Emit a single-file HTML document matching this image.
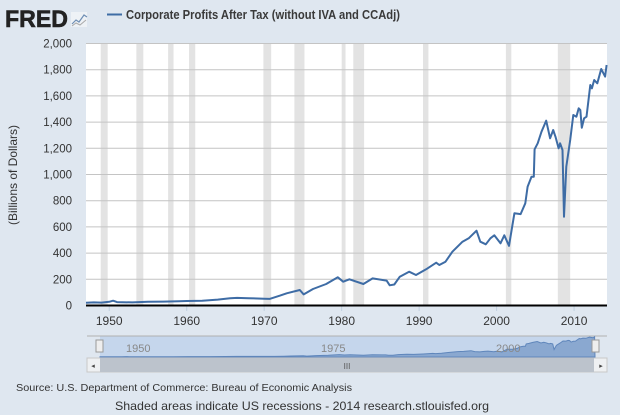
<!DOCTYPE html>
<html><head><meta charset="utf-8"><style>
body{margin:0;background:#dfe7f0;font-family:"Liberation Sans",sans-serif;}
svg text{font-family:"Liberation Sans",sans-serif;}
</style></head><body>
<svg id="c" width="620" height="415" style="display:block">
<rect width="620" height="415" fill="#dfe7f0"/>
<text x="5" y="27" font-size="24" font-weight="bold" fill="#222" stroke="#222" stroke-width="0.6" textLength="63" lengthAdjust="spacingAndGlyphs">FRED</text>
<g><rect x="71" y="12" width="16" height="15" fill="#eef2f6"/><polyline points="72,24 76,20 79,22 84,15 87,17" fill="none" stroke="#6f8fb5" stroke-width="1.2"/><polyline points="72,26 76,23 80,25 86,20" fill="none" stroke="#aaa" stroke-width="1"/></g>
<line x1="107" y1="14.5" x2="122" y2="14.5" stroke="#3e6ca5" stroke-width="2"/>
<text x="126" y="19" font-size="12.5" font-weight="bold" fill="#3a3a3a" textLength="274" lengthAdjust="spacingAndGlyphs">Corporate Profits After Tax (without IVA and CCAdj)</text>
<rect x="86" y="43" width="521" height="262" fill="#fff"/>
<g id="rec"></g><g id="grid"></g><g id="ylab"></g><g id="xlab"></g>
<line x1="86" y1="305.5" x2="607" y2="305.5" stroke="#000" stroke-width="2"/>
<path id="line" fill="none" stroke="#3e6ca5" stroke-width="2" stroke-linejoin="round"/>
<text transform="translate(17,175) rotate(-90)" text-anchor="middle" font-size="12" fill="#333">(Billions of Dollars)</text>
<g>
<line x1="87" y1="336" x2="607" y2="336" stroke="#b0b0b0"/>
<rect x="100" y="336.5" width="495" height="21" fill="#c5d6ec"/>
<path id="navarea" fill="#8aa8d0" stroke="#5f86bb" stroke-width="1"/>
<text x="126" y="352" font-size="11" fill="#888">1950</text>
<text x="321" y="352" font-size="11" fill="#888">1975</text>
<text x="496" y="352" font-size="11" fill="#888">2000</text>
<rect x="96" y="340" width="7" height="12" fill="#eee" stroke="#999"/>
<rect x="592" y="340" width="7" height="12" fill="#eee" stroke="#999"/>
<rect x="87" y="358" width="520" height="14" fill="#eef0f2" stroke="#c8c8c8"/>
<rect x="100" y="358" width="494" height="14" fill="#bcc3cc"/>
<text x="347" y="369" font-size="8" fill="#555" text-anchor="middle">III</text>
<text x="93" y="368" font-size="7" fill="#444" text-anchor="middle">◂</text>
<text x="601" y="368" font-size="7" fill="#444" text-anchor="middle">▸</text>
</g>
<text x="16" y="391" font-size="10" fill="#333" textLength="336" lengthAdjust="spacingAndGlyphs">Source: U.S. Department of Commerce: Bureau of Economic Analysis</text>
<text x="115" y="410" font-size="12" fill="#333" textLength="374" lengthAdjust="spacingAndGlyphs">Shaded areas indicate US recessions - 2014 research.stlouisfed.org</text>
</svg>
<script>
const years=[1947,1948,1949,1950,1950.5,1951,1953,1955,1957,1959,1960,1962,1964,1965.6,1966.5,1968,1970,1970.7,1972,1972.9,1974.6,1975.1,1976.3,1978,1979.5,1980.2,1981,1982.8,1984,1985.8,1986.2,1986.8,1987.5,1988.7,1989.6,1990.9,1992.2,1992.6,1993.4,1994.3,1995.6,1996.4,1997.4,1997.9,1998.6,1999.2,1999.7,2000.5,2001,2001.6,2002.3,2003.1,2003.7,2004,2004.5,2004.8,2004.9,2005.3,2005.8,2006.4,2006.9,2007.3,2007.6,2008,2008.2,2008.5,2008.7,2009,2009.5,2009.9,2010.3,2010.6,2010.8,2011,2011.3,2011.6,2012.1,2012.3,2012.6,2013,2013.5,2014,2014.2];
const profits=[21,24,22,28,37,26,24,28,30,32,34,36,45,55,58,56,52,50,75,93,118,85,126,164,215,182,200,164,207,190,154,160,220,258,233,276,327,309,334,411,487,513,571,487,467,513,536,475,536,456,704,698,780,907,983,983,1192,1238,1327,1411,1276,1340,1288,1200,1238,1187,678,1060,1263,1454,1441,1505,1492,1357,1429,1441,1683,1658,1721,1696,1805,1747,1836];
const recStart=[1948.9,1953.5,1957.6,1960.3,1969.9,1973.9,1980.0,1981.5,1990.5,2001.2,2007.9];
const recEnd=[1949.8,1954.4,1958.3,1961.1,1970.9,1975.2,1980.5,1982.9,1991.2,2001.9,2009.5];
const yTicks=[0,200,400,600,800,1000,1200,1400,1600,1800,2000];
const yTickLabels=["0","200","400","600","800","1,000","1,200","1,400","1,600","1,800","2,000"];
const xTicks=[1950,1960,1970,1980,1990,2000,2010];
const NS="http://www.w3.org/2000/svg";
const x0=1947,x1=2014.25,px0=86,px1=607;
const X=v=>px0+(v-x0)/(x1-x0)*(px1-px0);
const Y=v=>305.5-v/2000*262;
const NX=v=>100+(v-x0)/(x1-x0)*495;
const NY=v=>357-v/2000*22;
function mk(t,a,p){const e=document.createElementNS(NS,t);for(const k in a)e.setAttribute(k,a[k]);p.appendChild(e);return e;}
const rec=document.getElementById('rec');
recStart.forEach((s,i)=>{const r=mk('rect',{x:X(s),y:43,width:X(recEnd[i])-X(s),height:262,fill:'#e3e3e3'},rec);

});
const grid=document.getElementById('grid'),yl=document.getElementById('ylab');
yTicks.forEach((t,i)=>{if(t>0){const l=mk('line',{x1:86,x2:607,y1:Y(t),y2:Y(t),stroke:'#c4c4c4','stroke-width':1},grid);

}
const tx=mk('text',{x:72,y:Y(t)+4,'text-anchor':'end','font-size':11.5,fill:'#333'},yl);tx.textContent=yTickLabels[i];

});
const xl=document.getElementById('xlab');
xTicks.forEach(t=>{const l=mk('line',{x1:X(t),x2:X(t),y1:306,y2:311,stroke:'#c0d0e0'},xl);


const tx=mk('text',{x:X(t),y:325,'text-anchor':'middle','font-size':12,fill:'#333'},xl);tx.textContent=t;

});
document.getElementById('line').setAttribute('d',years.map((y,i)=>(i?'L':'M')+X(y).toFixed(1)+','+Y(profits[i]).toFixed(1)).join(''));
document.getElementById('navarea').setAttribute('d','M'+NX(x0)+',357'+years.map((y,i)=>'L'+NX(y).toFixed(1)+','+NY(profits[i]).toFixed(1)).join('')+'L'+NX(x1)+',357Z');
</script>
</body></html>
